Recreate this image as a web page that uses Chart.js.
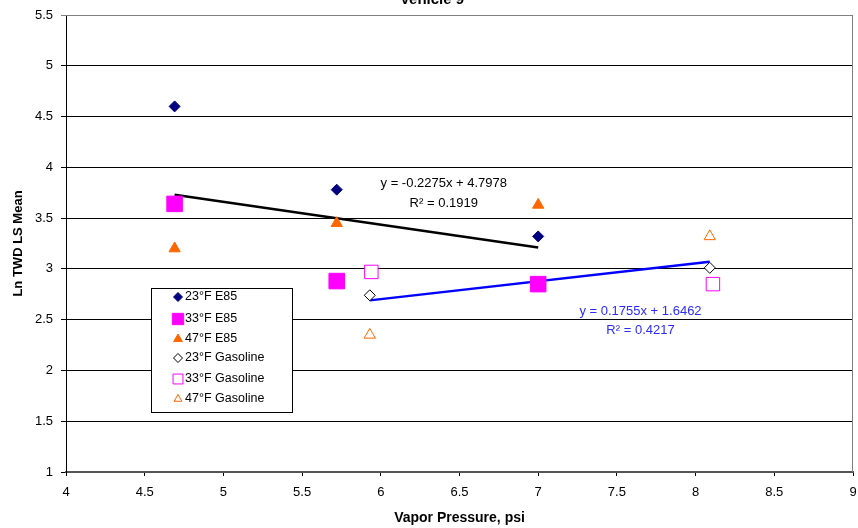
<!DOCTYPE html>
<html>
<head>
<meta charset="utf-8">
<script src="https://cdn.jsdelivr.net/npm/chart.js@4.4.1/dist/chart.umd.min.js"></script>
<style>
  body { margin: 0; background: #fff; }
  #wrap { width: 858px; height: 528px; }
</style>
</head>
<body>
<div id="wrap"><canvas id="vehicleChart" width="858" height="528"></canvas></div>
<script>
// Series values (x = vapor pressure, y = Ln TWD LS mean)
const e85X = [4.69, 5.72, 7.0];
const e85_23F = [4.60, 3.78, 3.32];
const e85_33F = [3.64, 2.88, 2.85];
const e85_47F = [3.20, 3.45, 3.63];

const gas23X = [5.93, 8.09];
const gas_23F = [2.74, 3.01];
const gas33X = [5.94, 8.11];
const gas_33F = [2.97, 2.85];
const gas47X = [5.93, 8.09];
const gas_47F = [2.35, 3.32];

// Trendline end points
const e85TrendX = [4.69, 7.0];
const e85TrendY = [3.73, 3.21];
const gasTrendX = [5.93, 8.09];
const gasTrendY = [2.69, 3.07];

const seriesLabels = ['23\u00B0F E85', '33\u00B0F E85', '47\u00B0F E85',
                      '23\u00B0F Gasoline', '33\u00B0F Gasoline', '47\u00B0F Gasoline'];

// Equation labels, placed at data coordinates
const eqText = [
    {x: 6.40, y: 3.84, text: 'y = -0.2275x + 4.7978', color: '#000'},
    {x: 6.40, y: 3.64, text: 'R\u00B2 = 0.1919', color: '#000'},
    {x: 7.65, y: 2.58, text: 'y = 0.1755x + 1.6462', color: '#2b2bff'},
    {x: 7.65, y: 2.39, text: 'R\u00B2 = 0.4217', color: '#2b2bff'}
];

function toPoints(xs, ys) {
    return xs.map((x, i) => ({x: x, y: ys[i]}));
}

const FONT = "'Liberation Sans', Arial, sans-serif";

// Frame, title, equations and legend box
const extrasPlugin = {
    id: 'extras',
    beforeDatasetsDraw(chart) {
        const ctx = chart.ctx;
        const a = chart.chartArea;
        ctx.save();
        ctx.strokeStyle = '#808080';
        ctx.lineWidth = 1;
        ctx.beginPath();
        ctx.moveTo(a.left, a.top + 0.5);
        ctx.lineTo(a.right - 0.5, a.top + 0.5);
        ctx.lineTo(a.right - 0.5, a.bottom);
        ctx.stroke();
        ctx.restore();
    },
    afterDraw(chart) {
        const ctx = chart.ctx;
        const xs = chart.scales.x, ys = chart.scales.y;
        ctx.save();

        // title, mostly cut off at the top edge
        ctx.fillStyle = '#000';
        ctx.font = 'bold 15px ' + FONT;
        ctx.textAlign = 'center';
        ctx.textBaseline = 'alphabetic';
        ctx.fillText('Vehicle 9', 432, 4);

        // trendline equations
        ctx.font = '13px ' + FONT;
        ctx.textBaseline = 'middle';
        eqText.forEach(t => {
            ctx.fillStyle = t.color;
            ctx.fillText(t.text, xs.getPixelForValue(t.x), ys.getPixelForValue(t.y));
        });

        // legend
        const bx = 151, by = 288, bw = 141, bh = 124;
        ctx.fillStyle = '#fff';
        ctx.fillRect(bx, by, bw, bh);
        ctx.strokeStyle = '#000';
        ctx.lineWidth = 1;
        ctx.strokeRect(bx + 0.5, by + 0.5, bw, bh);
        ctx.textAlign = 'left';
        ctx.font = '12.5px ' + FONT;
        const rowY = [297, 319, 339, 358, 379, 399];
        chart.data.datasets.slice(0, 6).forEach((ds, i) => {
            const cy = rowY[i];
            ctx.fillStyle = ds.backgroundColor;
            ctx.strokeStyle = ds.borderColor;
            ctx.lineWidth = 1;
            Chart.helpers.drawPoint(ctx, {
                pointStyle: ds.pointStyle,
                radius: ds.legendRadius,
                rotation: 0,
                borderWidth: 1
            }, 178, cy);
            ctx.fillStyle = '#000';
            ctx.fillText(seriesLabels[i], 185, cy);
        });
        ctx.restore();
    }
};

const ctx = document.getElementById('vehicleChart');

new Chart(ctx, {
    type: 'scatter',
    data: {
        datasets: [{
            label: seriesLabels[0],
            data: toPoints(e85X, e85_23F),
            pointStyle: 'rectRot', pointRadius: 5.5, legendRadius: 4.5,
            backgroundColor: '#000080', borderColor: '#000080', borderWidth: 1
        }, {
            label: seriesLabels[1],
            data: toPoints(e85X, e85_33F),
            pointStyle: 'rect', pointRadius: 11, legendRadius: 8,
            backgroundColor: '#ff00ff', borderColor: '#ff00ff', borderWidth: 1
        }, {
            label: seriesLabels[2],
            data: toPoints(e85X, e85_47F),
            pointStyle: 'triangle', pointRadius: 6.5, legendRadius: 5,
            backgroundColor: '#ff6600', borderColor: '#ff6600', borderWidth: 1
        }, {
            label: seriesLabels[3],
            data: toPoints(gas23X, gas_23F),
            pointStyle: 'rectRot', pointRadius: 5.5, legendRadius: 4.5,
            backgroundColor: '#fff', borderColor: '#000', borderWidth: 1
        }, {
            label: seriesLabels[4],
            data: toPoints(gas33X, gas_33F),
            pointStyle: 'rect', pointRadius: 9.5, legendRadius: 7,
            backgroundColor: '#fff', borderColor: '#ff00ff', borderWidth: 1
        }, {
            label: seriesLabels[5],
            data: toPoints(gas47X, gas_47F),
            pointStyle: 'triangle', pointRadius: 6.5, legendRadius: 4.5,
            backgroundColor: '#fff', borderColor: '#ff6600', borderWidth: 1
        }, {
            label: 'E85 trend',
            type: 'line',
            data: toPoints(e85TrendX, e85TrendY),
            showLine: true, pointRadius: 0,
            borderColor: '#000', borderWidth: 2.5, fill: false, order: 10
        }, {
            label: 'Gasoline trend',
            type: 'line',
            data: toPoints(gasTrendX, gasTrendY),
            showLine: true, pointRadius: 0,
            borderColor: '#0000ff', borderWidth: 2.5, fill: false, order: 10
        }]
    },
    options: {
        responsive: false,
        animation: false,
        layout: { autoPadding: false, padding: { left: 0, top: 15, right: 5, bottom: 0 } },
        plugins: {
            legend: { display: false },
            tooltip: { enabled: false }
        },
        scales: {
            x: {
                type: 'linear',
                min: 4, max: 9,
                afterFit: (s) => { s.height = 56; s.paddingLeft = 0; s.paddingRight = 0; },
                ticks: {
                    stepSize: 0.5,
                    color: '#000',
                    padding: 9,
                    font: { family: FONT, size: 13 },
                    callback: (v) => String(v)
                },
                grid: { drawOnChartArea: false, color: '#000', tickLength: 4 },
                border: { color: '#555', width: 2 },
                title: {
                    display: true,
                    text: 'Vapor Pressure, psi',
                    color: '#000',
                    font: { family: FONT, size: 14, weight: 'bold' },
                    padding: { top: 0, bottom: 1 }
                }
            },
            y: {
                min: 1, max: 5.5,
                afterFit: (s) => { s.width = 66; s.paddingTop = 0; s.paddingBottom = 0; },
                ticks: {
                    stepSize: 0.5,
                    color: '#000',
                    padding: 8,
                    font: { family: FONT, size: 13 },
                    callback: (v) => String(v)
                },
                grid: {
                    color: (c) => (c.tick && c.tick.value === 5.5) ? '#808080' : '#000',
                    lineWidth: 1,
                    tickLength: 5
                },
                border: { color: '#000', width: 1 },
                title: {
                    display: true,
                    text: 'Ln TWD LS Mean',
                    color: '#000',
                    font: { family: FONT, size: 13, weight: 'bold' },
                    padding: { top: 11, bottom: 0 }
                }
            }
        }
    },
    plugins: [extrasPlugin]
});
</script>
</body>
</html>
